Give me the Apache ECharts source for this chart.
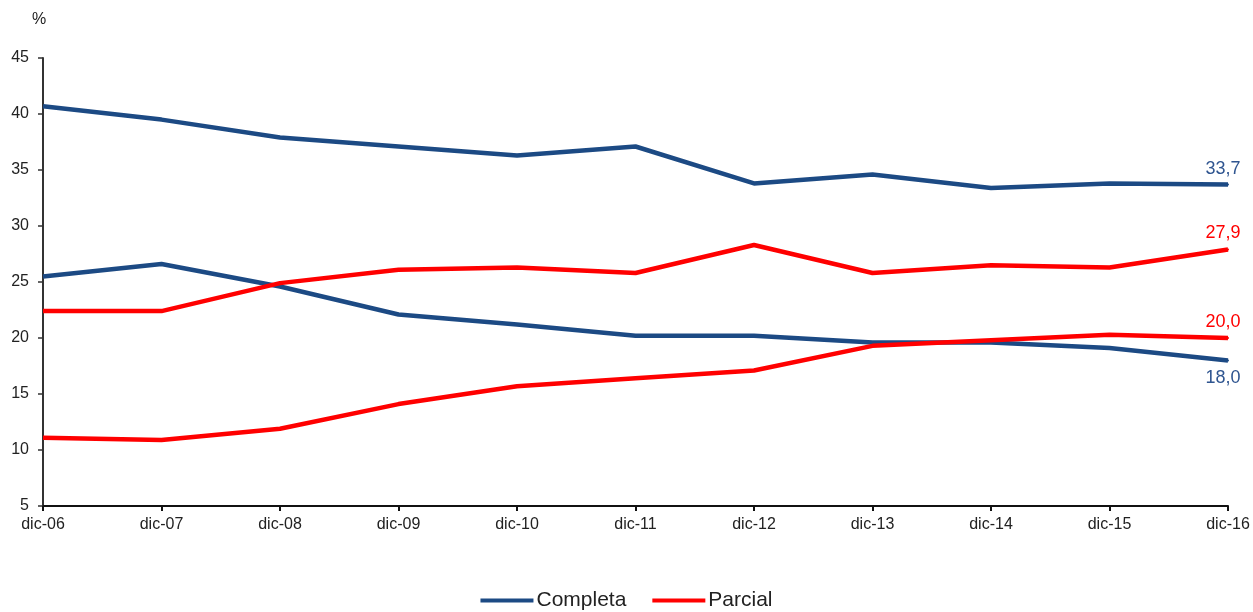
<!DOCTYPE html>
<html>
<head>
<meta charset="utf-8">
<script src="https://cdn.jsdelivr.net/npm/echarts@6/dist/echarts.min.js"></script>
<style>
html,body{margin:0;padding:0;background:#fff;}
#chart{width:1253px;height:612px;}
</style>
</head>
<body>
<div id="chart"></div>
<script>
const categories = ['dic-06','dic-07','dic-08','dic-09','dic-10','dic-11','dic-12','dic-13','dic-14','dic-15','dic-16'];
const completaA = [40.7, 39.5, 37.9, 37.1, 36.3, 37.1, 33.8, 34.6, 33.4, 33.8, 33.7];
const completaB = [25.5, 26.6, 24.6, 22.1, 21.2, 20.2, 20.2, 19.6, 19.6, 19.1, 18.0];
const parcialA  = [22.4, 22.4, 24.9, 26.1, 26.3, 25.8, 28.3, 25.8, 26.5, 26.3, 27.9];
const parcialB  = [11.1, 10.9, 11.9, 14.1, 15.7, 16.4, 17.1, 19.3, 19.8, 20.3, 20.0];
const seriesNames = ['Completa', 'Parcial'];

const BLUE = '#1c4a84';
const RED = '#ff0000';
const FONT = '"Liberation Sans", Arial, sans-serif';

function withEndLabel(arr, color, pos) {
  return arr.map((v, i) => {
    if (i !== arr.length - 1) return v;
    return {
      value: v,
      symbol: 'circle',
      symbolSize: 2,
      label: {
        show: true,
        position: pos,
        distance: pos === 'top' ? 6 : 8,
        offset: [-5, 0],
        color: color === BLUE ? '#2f5590' : color,
        fontSize: 18,
        fontFamily: FONT,
        formatter: p => p.value.toFixed(1).replace('.', ',')
      }
    };
  });
}

function mk(name, arr, color, pos) {
  return {
    name: name,
    type: 'line',
    data: withEndLabel(arr, color, pos),
    symbol: 'none',
    showSymbol: true,
    smooth: false,
    lineStyle: { color: color, width: 4.5 },
    itemStyle: { color: color },
    emphasis: { disabled: true },
    animation: false
  };
}

const chart = echarts.init(document.getElementById('chart'));
chart.setOption({
  animation: false,
  backgroundColor: '#fff',
  grid: { left: 43, right: 25, top: 58, bottom: 106, containLabel: false },
  legend: {
    data: seriesNames,
    top: 590,
    left: 'center',
    padding: 0,
    itemWidth: 53,
    itemHeight: 4,
    itemGap: 26,
    icon: 'rect',
    textStyle: { fontSize: 21, color: '#222', fontFamily: FONT, padding: [0, 0, 0, -2] }
  },
  xAxis: {
    type: 'category',
    data: categories,
    boundaryGap: false,
    axisLine: { lineStyle: { color: '#111', width: 2 } },
    axisTick: { show: true, alignWithLabel: true, length: 5, lineStyle: { color: '#111', width: 2 } },
    axisLabel: { color: '#222', fontSize: 16, fontFamily: FONT, margin: 11 },
    splitLine: { show: false }
  },
  yAxis: {
    type: 'value',
    min: 5,
    max: 45,
    interval: 5,
    name: '%',
    nameLocation: 'end',
    nameGap: 30,
    nameTextStyle: { color: '#222', fontSize: 16, fontFamily: FONT, align: 'center', padding: [0, 8, 0, 0] },
    axisLine: { show: true, lineStyle: { color: '#333', width: 2 } },
    axisTick: { show: true, length: 5, lineStyle: { color: '#333', width: 1.5 } },
    axisLabel: { color: '#222', fontSize: 16, fontFamily: FONT, margin: 14 },
    splitLine: { show: false }
  },
  series: [
    mk(seriesNames[0], completaA, BLUE, 'top'),
    mk(seriesNames[0], completaB, BLUE, 'bottom'),
    mk(seriesNames[1], parcialA, RED, 'top'),
    mk(seriesNames[1], parcialB, RED, 'top')
  ]
});
</script>
</body>
</html>
